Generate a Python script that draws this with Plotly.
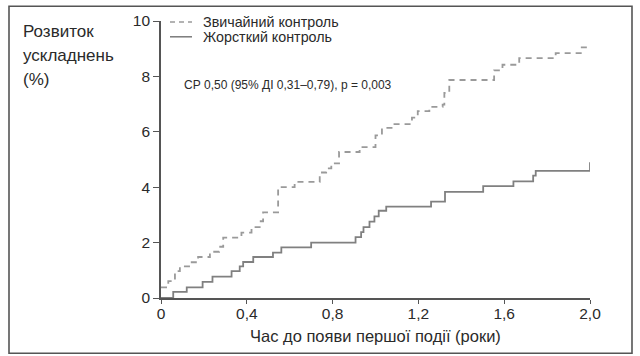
import plotly.graph_objects as go

# Data (time in years, cumulative incidence in %)
standard_x = [0, 0.034, 0.065, 0.088, 0.135, 0.173, 0.228, 0.271, 0.29, 0.375, 0.422, 0.46, 0.476,
              0.546, 0.623, 0.74, 0.77, 0.794, 0.83, 0.926, 1.0, 1.03, 1.08, 1.17, 1.197, 1.251,
              1.313, 1.321, 1.344, 1.553, 1.592, 1.67, 1.84, 1.957, 2.0]
standard_y = [0.38, 0.61, 0.97, 1.14, 1.29, 1.48, 1.67, 1.85, 2.18, 2.36, 2.56, 2.77, 3.09,
              4.0, 4.19, 4.53, 4.68, 4.86, 5.27, 5.45, 5.87, 6.14, 6.28, 6.51, 6.75, 6.9,
              6.98, 7.4, 7.87, 8.22, 8.42, 8.66, 8.84, 9.05, 9.12]

intensive_x = [0, 0.057, 0.12, 0.194, 0.24, 0.329, 0.367, 0.383, 0.43, 0.522, 0.561, 0.70, 0.907,
               0.933, 0.944, 0.972, 0.995, 1.015, 1.05, 1.259, 1.324, 1.502, 1.643, 1.735, 1.747,
               2.0, 2.0]
intensive_y = [0, 0.22, 0.38, 0.58, 0.77, 0.97, 1.14, 1.30, 1.48, 1.64, 1.83, 2.0, 2.2,
               2.38, 2.56, 2.76, 2.95, 3.15, 3.30, 3.48, 3.83, 4.04, 4.21, 4.42, 4.59,
               4.59, 4.9]

series_names = ["Звичайний контроль", "Жорсткий контроль"]
x_tick_vals = [0, 0.4, 0.8, 1.2, 1.6, 2.0]
x_tick_text = ["0", "0,4", "0,8", "1,2", "1,6", "2,0"]
y_tick_vals = [0, 2, 4, 6, 8, 10]
y_tick_text = ["0", "2", "4", "6", "8", "10"]
y_title_lines = ["Розвиток", "ускладнень", "(%)"]
x_title = "Час до появи першої події (роки)"
stat_text = "СР 0,50 (95% ДІ 0,31–0,79), p = 0,003"

FONT = "Liberation Sans, Arial, sans-serif"
TXT = "#2a2a2a"
DASH_C = "#9a9a9a"
SOLID_C = "#808080"

fig = go.Figure()
fig.add_trace(go.Scatter(x=standard_x, y=standard_y, mode="lines", line_shape="hv",
                         name=series_names[0],
                         line=dict(color=DASH_C, width=1.8, dash="6px,5px")))
fig.add_trace(go.Scatter(x=intensive_x, y=intensive_y, mode="lines", line_shape="hv",
                         name=series_names[1],
                         line=dict(color=SOLID_C, width=1.8)))

W, H = 640, 356
L, R, T, B = 161, 50, 17, 58
pw, ph = W - L - R, H - T - B

def px(xp):
    return (xp - L) / pw

def py(yp):
    return (H - B - yp) / ph

shapes = [
    # outer frame
    dict(type="rect", xref="paper", yref="paper", x0=px(9), x1=px(632), y0=py(354), y1=py(2),
         line=dict(color="#555555", width=1.6), layer="below"),
    # legend samples
    dict(type="line", xref="paper", yref="paper", x0=px(170), x1=px(192), y0=py(18), y1=py(18),
         line=dict(color=DASH_C, width=1.6, dash="5px,4px")),
    dict(type="line", xref="paper", yref="paper", x0=px(170), x1=px(192), y0=py(33), y1=py(33),
         line=dict(color=SOLID_C, width=1.6)),
]

annotations = [
    dict(xref="paper", yref="paper", x=px(201), y=py(18), text=series_names[0], showarrow=False,
         xanchor="left", yanchor="middle", font=dict(family=FONT, size=14.3, color=TXT)),
    dict(xref="paper", yref="paper", x=px(201), y=py(33), text=series_names[1], showarrow=False,
         xanchor="left", yanchor="middle", font=dict(family=FONT, size=14.3, color=TXT)),
    dict(xref="paper", yref="paper", x=px(182), y=py(82), text=stat_text, showarrow=False,
         xanchor="left", yanchor="middle", font=dict(family=FONT, size=12, color=TXT)),
    dict(xref="paper", yref="paper", x=(px(161) + px(590)) / 2, y=py(337), text=x_title,
         showarrow=False, xanchor="center", yanchor="middle",
         font=dict(family=FONT, size=16.5, color=TXT)),
]
for i, line in enumerate(y_title_lines):
    annotations.append(dict(xref="paper", yref="paper", x=px(21), y=py(28 + 24 * i), text=line,
                            showarrow=False, xanchor="left", yanchor="middle",
                            font=dict(family=FONT, size=17, color=TXT)))

fig.update_layout(
    width=W, height=H,
    margin=dict(l=L, r=R, t=T, b=B, pad=0),
    paper_bgcolor="white", plot_bgcolor="white",
    showlegend=False,
    shapes=shapes, annotations=annotations,
    font=dict(family=FONT, size=15, color=TXT),
)
fig.update_xaxes(range=[0, 2.0], tickvals=x_tick_vals, ticktext=x_tick_text,
                 showgrid=False, zeroline=False, showline=True, linecolor="#555555", linewidth=1.6,
                 ticks="outside", ticklen=4, tickcolor="#555555", tickwidth=1.2,
                 ticklabelstandoff=-3,
                 tickfont=dict(family=FONT, size=15.5, color=TXT))
fig.update_yaxes(range=[0, 10], tickvals=y_tick_vals, ticktext=y_tick_text,
                 showgrid=False, zeroline=False, showline=True, linecolor="#555555", linewidth=1.6,
                 ticks="outside", ticklen=6, tickcolor="#555555", tickwidth=1.2,
                 tickfont=dict(family=FONT, size=15.5, color=TXT))

fig.write_html("out.html", config={"displayModeBar": False},
               post_script="document.body.style.margin='0';")
